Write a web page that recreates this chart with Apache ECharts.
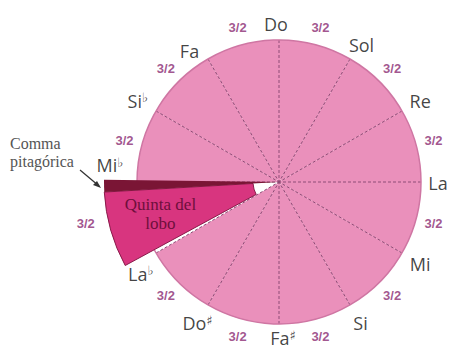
<!DOCTYPE html>
<html>
<head>
<meta charset="utf-8">
<style>
  html, body { margin: 0; padding: 0; background: #fff; }
  #chart { width: 450px; height: 350px; }
</style>
<script src="https://cdn.jsdelivr.net/npm/echarts@6/dist/echarts.min.js"></script>
</head>
<body>
<div id="chart"></div>
<script>
// circle of fifths, clockwise from the top (degrees)
const notes = ['Do', 'Sol', 'Re', 'La', 'Mi', 'Si', 'Fa', 'Do', 'La', 'Mi', 'Si', 'Fa']
const accidentals = ['', '', '', '', '', '', '♯', '♯', '♭', '♭', '♭', '']
const noteAngles = [0, 30, 60, 90, 120, 150, 180, 210, 240, 270, 300, 330]
const fifthRatios = ['3/2', '3/2', '3/2', '3/2', '3/2', '3/2', '3/2', '3/2', '3/2', '3/2', '3/2', '3/2']
const fifthSpans = [30, 30, 30, 30, 30, 30, 30, 30, 30, 30, 30, 30]
const wolfIndex = 8 // La♭ -> Mi♭
// wedge drawn out of the circle: wolf fifth and the comma strip (degrees)
const wolfFrom = 241.5
const wolfTo = 266.7
const commaTo = 270.7

const PINK = '#ea90bb'
const WOLF = '#d8357f'
const COMMA = '#7a1535'
const CX = 279, CY = 182, R = 142

const chart = echarts.init(document.getElementById('chart'), null, { renderer: 'svg' })

const discData = fifthSpans.map((v, i) => ({
  value: v,
  itemStyle: { color: i === wolfIndex ? '#ffffff' : PINK },
}))

const hidden = { color: 'transparent' }

const wolfData = [
  { value: wolfFrom, itemStyle: hidden },
  {
    value: wolfTo - wolfFrom,
    name: 'Quinta del lobo',
    itemStyle: { color: WOLF, borderColor: '#8a1a4a', borderWidth: 1 },
    label: {
      show: true, position: 'inside', offset: [-19, 4],
      formatter: 'Quinta del\nlobo',
      fontFamily: 'Liberation Serif', fontSize: 17, lineHeight: 19,
      color: '#6e0f3c',
    },
  },
  { value: 360 - wolfTo, itemStyle: hidden },
]

const commaData = [
  { value: wolfTo, itemStyle: hidden },
  { value: commaTo - wolfTo, itemStyle: { color: COMMA } },
  { value: 360 - commaTo, itemStyle: hidden },
]

// small nudges where the labels sit off the ring in the drawing
const noteNudge = { 0: [-3, 5], 1: [1, 4], 3: [-4, 1], 6: [4, -7], 8: [3, 10], 9: [-6, -17], 11: [-8, 10] }

const noteData = notes.map((n, i) => ({
  value: [163, noteAngles[i]],
  label: {
    formatter: accidentals[i] ? '{n|' + n + '}{s|' + accidentals[i] + '}' : '{n|' + n + '}',
    offset: noteNudge[i] || [0, 0],
  },
}))

const ratioData = fifthRatios.map((t, i) => ({
  value: [i === wolfIndex ? 198 : 160, noteAngles[i] + fifthSpans[i] / 2],
  label: { formatter: t, offset: i === wolfIndex ? [-2, -10] : [0, 0] },
}))

const pieBase = {
  type: 'pie', silent: true,
  center: [CX, CY],
  startAngle: 90, clockwise: true,
  label: { show: false }, labelLine: { show: false },
}

chart.setOption({
  backgroundColor: '#fff',
  animation: false,
  polar: { center: [CX, CY], radius: R },
  angleAxis: {
    type: 'value', min: 0, max: 360, interval: 30,
    startAngle: 90, clockwise: true, z: 2,
    axisLine: { show: true, lineStyle: { color: '#cf76a3', width: 1.5 } },
    axisTick: { show: false },
    axisLabel: { show: false },
    splitLine: { show: true, lineStyle: { color: '#8e4c76', width: 1, type: [3, 2] } },
  },
  radiusAxis: {
    type: 'value', min: 0, max: R,
    axisLine: { show: false }, axisTick: { show: false },
    axisLabel: { show: false }, splitLine: { show: false },
  },
  series: [
    Object.assign({}, pieBase, { z: 1, radius: [0, R], data: discData }),
    Object.assign({}, pieBase, { z: 3, radius: [26, 175], data: wolfData }),
    Object.assign({}, pieBase, { z: 3, radius: [0, 175], data: commaData }),
    {
      type: 'scatter', coordinateSystem: 'polar', z: 4, silent: true, clip: false,
      symbolSize: 0,
      label: {
        show: true, position: 'inside',
        rich: {
          n: { fontFamily: 'Open Sans', fontSize: 18, color: '#111', lineHeight: 19 },
          s: { fontFamily: 'DejaVu Sans', fontWeight: 'bold', fontSize: 13, color: '#111', verticalAlign: 'top', lineHeight: 13 },
        },
      },
      data: noteData,
    },
    {
      type: 'scatter', coordinateSystem: 'polar', z: 4, silent: true, clip: false,
      symbolSize: 0,
      label: {
        show: true, position: 'inside',
        fontFamily: 'Liberation Sans', fontWeight: 'bold', fontSize: 13, color: '#8a2a72',
      },
      data: ratioData,
    },
  ],
  graphic: [
    {
      type: 'text', left: 10, top: 134, z: 5,
      style: {
        text: 'Comma\npitagórica', fill: '#555', align: 'center',
        font: '16px "Liberation Serif"', lineHeight: 18,
      },
    },
    {
      type: 'line', z: 5,
      shape: { x1: 80, y1: 170, x2: 99, y2: 186 },
      style: { stroke: '#333', lineWidth: 1.2 },
    },
    {
      type: 'polygon', z: 5,
      shape: { points: [[101, 188], [93, 185], [97, 181]] },
      style: { fill: '#333' },
    },
  ],
})
</script>
</body>
</html>
